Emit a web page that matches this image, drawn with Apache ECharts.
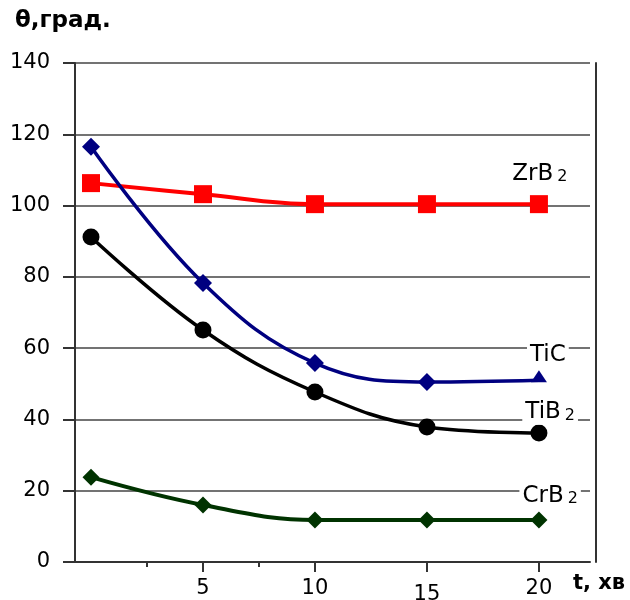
<!DOCTYPE html>
<html><head><meta charset="utf-8">
<script src="https://cdn.jsdelivr.net/npm/echarts@6/dist/echarts.min.js"></script>
<style>html,body{margin:0;padding:0;background:#fff}#c{width:630px;height:600px}</style>
</head><body><div id="c"></div>
<script>
var times = [0, 5, 10, 15, 20];
var xTickLabels = [5, 10, 15, 20];
var yTicks = [0, 20, 40, 60, 80, 100, 120, 140];
var zrb2 = [106.3, 103.2, 100.4, 100.4, 100.4];
var tic = [116.5, 78.3, 55.8, 50.5, 51.0];
var tib2 = [91.2, 65.1, 47.7, 37.9, 36.2];
var crb2 = [23.8, 16.0, 11.8, 11.8, 11.8];
var seriesNames = ['ZrB2', 'TiC', 'TiB2', 'CrB2'];

function pairs(v){ return times.map(function(t,i){ return [t, v[i]]; }); }
var FF = '"DejaVu Sans", Arial, sans-serif';
var richLbl = {
  a:{fontSize:23, fontFamily:FF, color:'#000', verticalAlign:'bottom', lineHeight:26},
  s:{fontSize:16, fontFamily:FF, color:'#000', verticalAlign:'bottom', lineHeight:26, padding:[0,0,0,4]}
};
function mark(x, y, main, sub){
  return {
    symbol:'rect', symbolSize:1, itemStyle:{color:'rgba(0,0,0,0)'},
    silent:true,
    label:{show:true, position:'inside', backgroundColor:'#fff', padding:[1,3,1,3],
      formatter: sub ? '{a|'+main+'}{s|'+sub+'}' : '{a|'+main+'}', rich:richLbl},
    data:[{coord:[x, y]}]
  };
}
var chart = echarts.init(document.getElementById('c'), null, {renderer:'canvas'});
var xCommon = {type:'value', min:-0.714, max:22.28, position:'bottom', splitLine:{show:false}};
chart.setOption({
  animation:false,
  backgroundColor:'#fff',
  grid:{left:75, top:63, right:40, bottom:38, containLabel:false, outerBoundsMode:'none'},
  xAxis:[
    Object.assign({}, xCommon, {
      axisLine:{show:true, onZero:false, lineStyle:{color:'#333', width:2}},
      axisTick:{show:true, length:10, customValues:xTickLabels, lineStyle:{color:'#333', width:2}},
      axisLabel:{show:true, customValues:xTickLabels, margin:16, fontSize:21, fontFamily:FF, color:'#000',
        formatter:function(v){ return v===15 ? '{low|15}' : '{n|'+v+'}'; },
        rich:{n:{fontSize:21, fontFamily:FF, color:'#000'}, low:{fontSize:21, fontFamily:FF, color:'#000', padding:[6,0,0,0]}}}
    }),
    Object.assign({}, xCommon, {
      axisLine:{show:false, onZero:false},
      axisTick:{show:true, length:5, customValues:[2.5, 7.5], lineStyle:{color:'#333', width:2}},
      axisLabel:{show:false}
    })
  ],
  yAxis:[
    {type:'value', min:0, max:140, interval:20,
      axisLine:{show:true, onZero:false, lineStyle:{color:'#333', width:2}},
      axisTick:{show:true, length:12, lineStyle:{color:'#333', width:2}},
      axisLabel:{margin:25, fontSize:21, fontFamily:FF, color:'#000'},
      splitLine:{show:true, lineStyle:{color:'#444', width:1.5}}},
    {type:'value', min:0, max:140, position:'right', offset:6,
      axisLine:{show:true, onZero:false, lineStyle:{color:'#333', width:2}},
      axisTick:{show:false}, axisLabel:{show:false}, splitLine:{show:false}}
  ],
  graphic:[
    {type:'text', left:15, top:10, style:{text:'θ,град.', font:'bold 23px "DejaVu Sans", Arial, sans-serif', fill:'#000'}},
    {type:'text', left:573, top:573, style:{text:'t, хв', font:'bold 21px "DejaVu Sans", Arial, sans-serif', fill:'#000'}}
  ],
  series:[
    {name:seriesNames[0], type:'line', smooth:0.4, data:pairs(zrb2), symbol:'rect', symbolSize:18,
      lineStyle:{color:'#ff0000', width:4}, itemStyle:{color:'#ff0000'},
      markPoint:mark(20.04, 109.4, 'ZrB', '2')},
    {name:seriesNames[1], type:'line', smooth:0.4, symbol:'diamond', symbolSize:18,
      data:pairs(tic).map(function(p,i){ return i===4 ? {value:p, symbol:'triangle', symbolSize:[16,12], symbolOffset:[0,-4]} : p; }),
      lineStyle:{color:'#000080', width:3.5}, itemStyle:{color:'#000080'},
      markPoint:mark(20.4, 58.6, 'TiC', '')},
    {name:seriesNames[2], type:'line', smooth:0.4, data:pairs(tib2), symbol:'circle', symbolSize:17,
      lineStyle:{color:'#000', width:3.5}, itemStyle:{color:'#000'},
      markPoint:mark(20.5, 42.4, 'TiB', '2')},
    {name:seriesNames[3], type:'line', smooth:0.4, data:pairs(crb2), symbol:'diamond', symbolSize:17,
      lineStyle:{color:'#003300', width:4}, itemStyle:{color:'#003300'},
      markPoint:mark(20.5, 19, 'CrB', '2')}
  ]
});
</script></body></html>
